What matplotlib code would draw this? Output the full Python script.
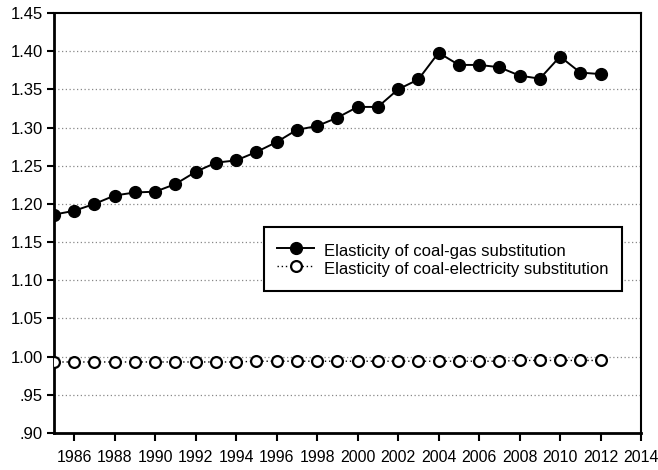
import matplotlib
matplotlib.use("Agg")
import matplotlib.pyplot as plt
from matplotlib.ticker import FuncFormatter

plt.rcParams['font.family'] = ['Liberation Sans', 'DejaVu Sans']

years = list(range(1985, 2013))
coal_gas = [1.186, 1.191, 1.200, 1.211, 1.215, 1.216, 1.226, 1.242, 1.254, 1.257,
            1.268, 1.281, 1.297, 1.302, 1.313, 1.327, 1.327, 1.350, 1.363, 1.398,
            1.382, 1.382, 1.379, 1.368, 1.364, 1.393, 1.372, 1.370]
coal_elec = [0.993, 0.993, 0.993, 0.993, 0.993, 0.993, 0.993, 0.993, 0.993, 0.993,
             0.994, 0.994, 0.994, 0.994, 0.994, 0.994, 0.994, 0.994, 0.994, 0.994,
             0.994, 0.994, 0.994, 0.995, 0.995, 0.995, 0.995, 0.995]
labels = ["Elasticity of coal-gas substitution",
          "Elasticity of coal-electricity substitution"]
xticks = list(range(1986, 2015, 2))
yticks = [0.90, 0.95, 1.00, 1.05, 1.10, 1.15, 1.20, 1.25, 1.30, 1.35, 1.40, 1.45]

fig = plt.figure(figsize=(6.58, 4.70), dpi=100)
ax = fig.add_axes([54/658, 37/470, 587/658, 420/470])

for y in yticks[1:-1]:
    ax.axhline(y, color='#888888', linestyle=(0, (1, 2)), linewidth=0.9, zorder=0)

ax.plot(years, coal_gas, color='black', linewidth=1.4, marker='o', markersize=8.5,
        markerfacecolor='black', markeredgecolor='black', label=labels[0], zorder=3)
ax.plot(years, coal_elec, color='black', linewidth=1.0, linestyle=(0, (1, 2)),
        marker='o', markersize=7.8, markerfacecolor='white', markeredgecolor='black',
        markeredgewidth=1.6, label=labels[1], zorder=3)

ax.set_xlim(1985, 2014)
ax.set_ylim(0.90, 1.45)
ax.set_xticks(xticks)
ax.set_yticks(yticks)

def yfmt(v, pos):
    s = f"{v:.2f}"
    if s.startswith("0"):
        s = s[1:]
    return s

ax.yaxis.set_major_formatter(FuncFormatter(yfmt))
ax.tick_params(axis='x', direction='out', length=6, width=1.5, labelsize=11.4, pad=6)
ax.tick_params(axis='y', direction='out', length=5, width=1.5, labelsize=12, pad=3)
for s in ['left', 'bottom']:
    ax.spines[s].set_linewidth(2.0)
for s in ['top', 'right']:
    ax.spines[s].set_linewidth(1.5)

leg = ax.legend(loc='upper left', bbox_to_anchor=(264/658, 1 - 227/470),
                bbox_transform=fig.transFigure, fontsize=12, frameon=True,
                fancybox=False, framealpha=1, edgecolor='black',
                handlelength=2.2, handleheight=1.45, borderpad=0.8,
                labelspacing=-0.12, handletextpad=0.62, borderaxespad=0)
leg.get_frame().set_linewidth(1.5)

fig.savefig("out.png", dpi=100)
